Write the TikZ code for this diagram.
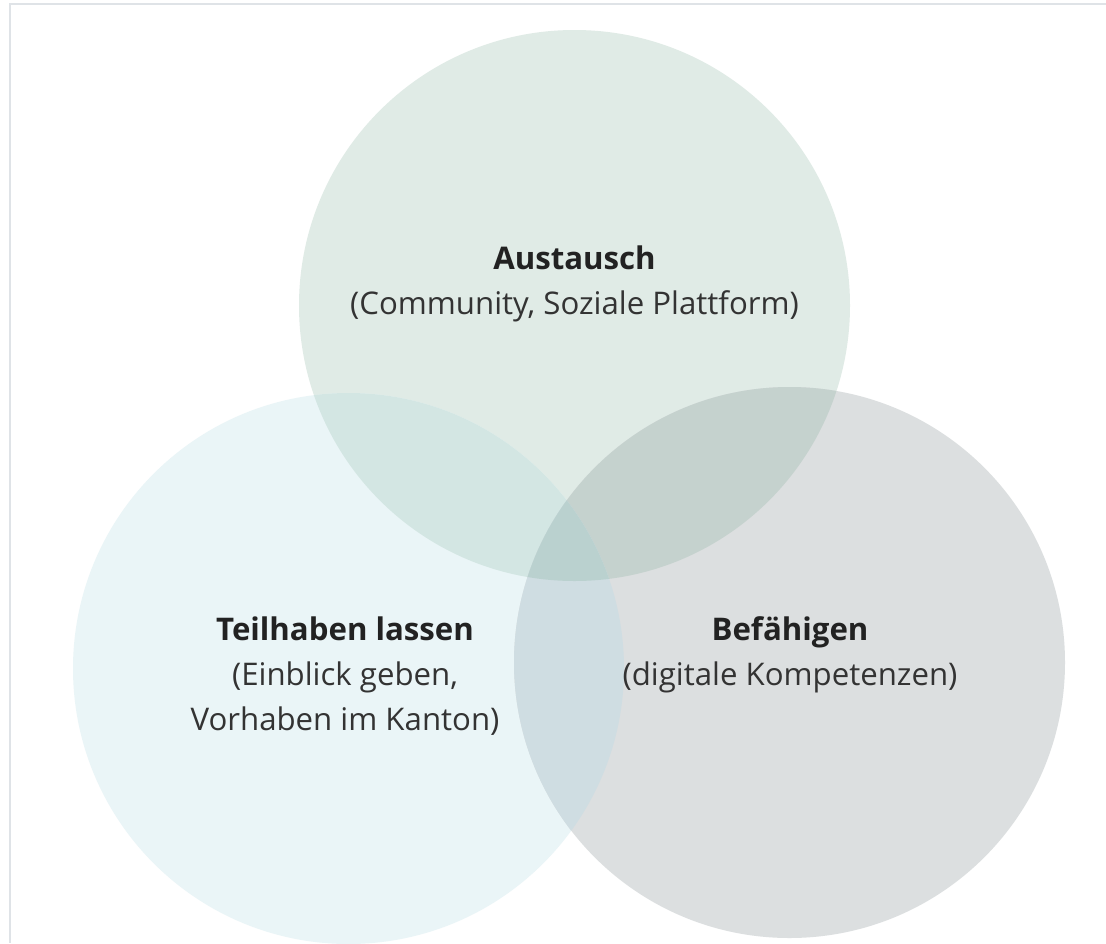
\documentclass[tikz,border=0pt]{standalone}
\usepackage{fontspec}
\setmainfont{Open Sans}
\definecolor{cT}{HTML}{E0EBE6}
\definecolor{cL}{HTML}{EAF5F7}
\definecolor{cR}{HTML}{DCDFE0}
\definecolor{cTL}{HTML}{D3E6E3}
\definecolor{cTR}{HTML}{C5D2CE}
\definecolor{cLR}{HTML}{CFDDE2}
\definecolor{cTLR}{HTML}{BAD1CF}
\definecolor{frame}{HTML}{DFE3E7}
\definecolor{titlecol}{HTML}{222222}
\definecolor{subcol}{HTML}{333333}
\begin{document}
\begin{tikzpicture}[x=1pt,y=-1pt,
  title/.style={anchor=base,inner sep=0pt,text=titlecol,font=\fontsize{31.2}{44}\selectfont\bfseries},
  sub/.style={anchor=base,inner sep=0pt,text=subcol,font=\fontsize{31.2}{44}\selectfont}]
\useasboundingbox (0,0) rectangle (1106,943);
\fill[white] (0,0) rectangle (1106,943);
\def\R{275.5}
\def\circT{(574.5,305.5) circle[radius=\R]}
\def\circL{(348.5,668.5) circle[radius=\R]}
\def\circR{(789.5,662.5) circle[radius=\R]}
% single circles
\fill[cT] \circT;
\fill[cL] \circL;
\fill[cR] \circR;
% pairwise
\begin{scope}\clip \circT; \fill[cTL] \circL; \fill[cTR] \circR;\end{scope}
\begin{scope}\clip \circL; \fill[cLR] \circR;\end{scope}
\begin{scope}\clip \circT; \clip \circL; \fill[cTLR] \circR;\end{scope}
% frame lines
\coordinate (fTL) at (9.75,3.75);
\coordinate (fTR) at (1106,3.75);
\coordinate (fBL) at (9.75,943);
\draw[frame,line width=1.5pt] (fTR) -- (fTL) -- (fBL);
% texts
\node[title] (a1) at (574.5,269.5) {Austausch};
\node[sub]   (a2) at (574.5,314) {(Community, Soziale Plattform)};
\node[title] (t1) at (345,640.5) {Teilhaben lassen};
\node[sub]   (t2) at (345,685.5) {(Einblick geben,};
\node[sub]   (t3) at (345,730) {Vorhaben im Kanton)};
\node[title] (b1) at (790,640.5) {Befähigen};
\node[sub]   (b2) at (790,685.5) {(digitale Kompetenzen)};
\end{tikzpicture}
\end{document}
